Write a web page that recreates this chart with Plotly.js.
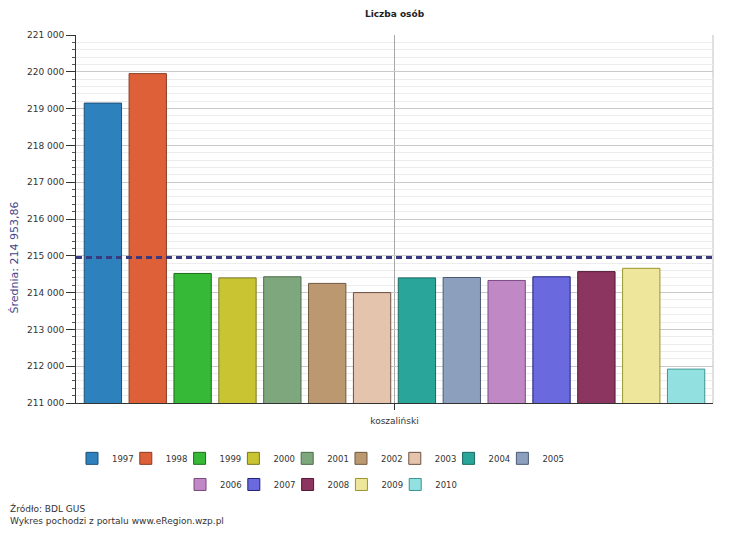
<!DOCTYPE html>
<html><head><meta charset="utf-8">
<script src="https://cdn.plot.ly/plotly-3.0.1.min.js"></script>
<style>html,body{margin:0;padding:0;background:#fff}#chart{width:731px;height:536px}</style>
</head><body><div id="chart"></div>
<script>
const category = 'koszaliński';
const years = ['1997','1998','1999','2000','2001','2002','2003','2004','2005','2006','2007','2008','2009','2010'];
const values = [219150, 219950, 214520, 214400, 214430, 214250, 214000, 214400, 214410, 214330, 214430, 214570, 214660, 211920];
const fillColors = ['#2d82be','#de6038','#36b936','#c9c532','#7fa77d','#bc9870','#e4c4ac','#2aa59a','#8ca0be','#c088c4','#6a6ade','#8c3560','#eee69a','#92e0e0'];
const lineColors = ['#1d4f78','#8a3a20','#1f6e1f','#7a7620','#4c6a4a','#6e5840','#6e5040','#186860','#4a5a74','#7a4a80','#20207a','#501a36','#9a9430','#3a9494'];
const meanValue = 214953.86;
const meanLabel = 'Średnia: 214 953,86';
const chartTitle = 'Liczba osób';
const sourceLines = ['Źródło: BDL GUS', 'Wykres pochodzi z portalu www.eRegion.wzp.pl'];
const firstRowCount = 9;

const FONT = 'DejaVu Sans, Verdana, sans-serif';

const traces = years.map((yr, i) => {
  const t = {
    type: 'bar',
    name: yr,
    x: [category],
    y: [values[i]],
    marker: {color: fillColors[i], line: {color: lineColors[i], width: 1}},
    legend: i < firstRowCount ? 'legend' : 'legend2',
    hoverinfo: 'skip'
  };
  if (i === firstRowCount - 1 || i === years.length - 1) t.legendwidth = 30;
  return t;
});

const layout = {
  width: 731, height: 536,
  margin: {l: 76, r: 18, t: 35, b: 133},
  paper_bgcolor: '#ffffff',
  plot_bgcolor: '#ffffff',
  separators: ', ',
  font: {family: FONT, size: 9, color: '#333333'},
  barmode: 'group',
  bargap: 0.014,
  bargroupgap: 0.168,
  title: {text: '<b>' + chartTitle + '</b>', font: {family: FONT, size: 9, color: '#222'}, xref: 'paper', x: 0.5, xanchor: 'center', yref: 'container', y: 0.974, yanchor: 'middle'},
  xaxis: {
    type: 'category', range: [-0.5, 0.5], fixedrange: true,
    showline: true, linecolor: '#333', linewidth: 1,
    showgrid: true, gridcolor: '#a8a8a8', gridwidth: 1,
    ticks: 'outside', ticklen: 6, tickcolor: '#333',
    ticklabelstandoff: 3,
    tickfont: {family: FONT, size: 9, color: '#333'},
    zeroline: false
  },
  yaxis: {
    range: [211000, 221000], fixedrange: true,
    dtick: 1000, tick0: 211000, tickformat: ',d',
    showline: true, linecolor: '#333', linewidth: 1,
    showgrid: true, gridcolor: '#c8c8c8', gridwidth: 1,
    ticks: 'outside', ticklen: 9, tickcolor: '#333',
    tickfont: {family: FONT, size: 9, color: '#333'},
    minor: {dtick: 200, showgrid: true, gridcolor: '#ececec', ticks: 'outside', ticklen: 3, tickcolor: '#555'},
    zeroline: false
  },
  showlegend: true,
  legend: {orientation: 'h', x: -0.0063, xanchor: 'left', y: -0.111, yanchor: 'top', entrywidth: 8.8, entrywidthmode: 'pixels', font: {family: FONT, size: 8.5, color: '#333'}, bgcolor: 'rgba(0,0,0,0)', traceorder: 'normal'},
  legend2: {orientation: 'h', x: 0.1633, xanchor: 'left', y: -0.182, yanchor: 'top', entrywidth: 8.8, entrywidthmode: 'pixels', font: {family: FONT, size: 8.5, color: '#333'}, bgcolor: 'rgba(0,0,0,0)', traceorder: 'normal'},
  shapes: [
    {type: 'line', xref: 'paper', x0: 0, x1: 1, yref: 'y', y0: meanValue, y1: meanValue, line: {color: '#3a3a80', width: 3, dash: '6px,4px'}, layer: 'above'},
    {type: 'line', xref: 'paper', x0: 1, x1: 1, yref: 'paper', y0: 0, y1: 1, line: {color: '#c0c0c0', width: 1}, layer: 'below'}
  ],
  annotations: [
    {text: meanLabel, xref: 'paper', x: -0.0958, xanchor: 'center', yref: 'y', y: meanValue, yanchor: 'middle', textangle: -90, showarrow: false, font: {family: FONT, size: 11, color: '#46468a'}},
    {text: sourceLines[0], xref: 'paper', x: -0.1068, xanchor: 'left', yref: 'paper', y: -0.288, yanchor: 'middle', showarrow: false, font: {family: FONT, size: 9, color: '#333'}},
    {text: sourceLines[1], xref: 'paper', x: -0.1068, xanchor: 'left', yref: 'paper', y: -0.321, yanchor: 'middle', showarrow: false, font: {family: FONT, size: 9, color: '#333'}}
  ]
};

Plotly.newPlot('chart', traces, layout, {displayModeBar: false, staticPlot: true});
</script>
</body></html>
